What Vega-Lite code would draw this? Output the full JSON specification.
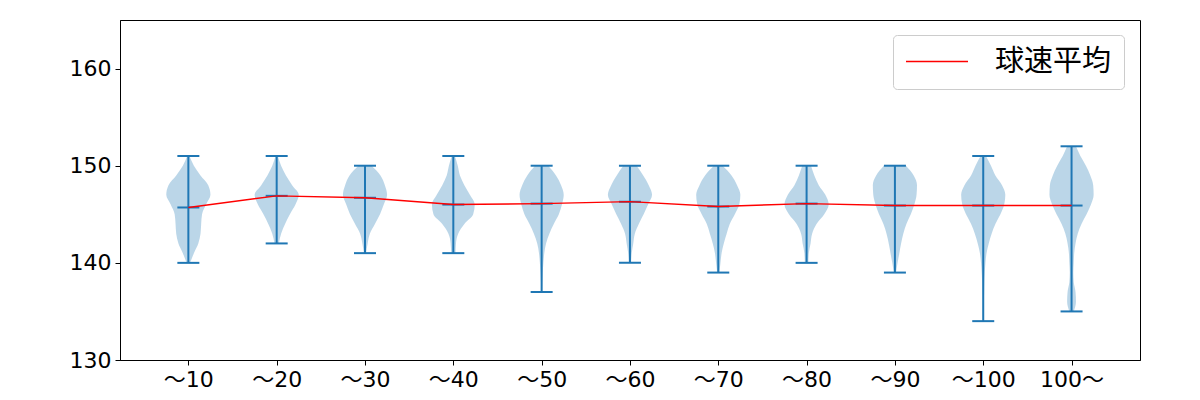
{
  "$schema": "https://vega.github.io/schema/vega-lite/v6.json",
  "width": 1020,
  "height": 340,
  "autosize": {"type": "none"},
  "padding": {"left": 120, "top": 20, "right": 60, "bottom": 40},
  "background": "white",
  "config": {
    "font": "Noto Sans CJK JP",
    "view": {"stroke": "#000000", "strokeWidth": 1},
    "axis": {
      "grid": false,
      "title": null,
      "domainColor": "#000000",
      "domainWidth": 1,
      "tickColor": "#000000",
      "tickWidth": 1,
      "tickSize": 5,
      "labelColor": "#000000",
      "labelFontSize": 22,
      "labelFont": "DejaVu Sans, Noto Sans CJK JP",
      "labelPadding": 4,
      "labelFlush": false,
      "labelOverlap": false
    }
  },
  "datasets": {
    "violin": [
      {"g":1,"v":140,"d":0.08},{"g":1,"v":141,"d":0.25},{"g":1,"v":142,"d":0.45},{"g":1,"v":143,"d":0.55},{"g":1,"v":144,"d":0.58},{"g":1,"v":145,"d":0.62},{"g":1,"v":146,"d":0.8},{"g":1,"v":147,"d":1.0},{"g":1,"v":148,"d":0.9},{"g":1,"v":149,"d":0.55},{"g":1,"v":150,"d":0.25},{"g":1,"v":151,"d":0.05},
      {"g":2,"v":142,"d":0.1},{"g":2,"v":143,"d":0.2},{"g":2,"v":144,"d":0.38},{"g":2,"v":145,"d":0.6},{"g":2,"v":146,"d":0.85},{"g":2,"v":147,"d":1.0},{"g":2,"v":148,"d":0.7},{"g":2,"v":149,"d":0.42},{"g":2,"v":150,"d":0.2},{"g":2,"v":151,"d":0.05},
      {"g":3,"v":141,"d":0.05},{"g":3,"v":142,"d":0.12},{"g":3,"v":143,"d":0.22},{"g":3,"v":144,"d":0.45},{"g":3,"v":145,"d":0.68},{"g":3,"v":146,"d":0.85},{"g":3,"v":147,"d":1.0},{"g":3,"v":148,"d":0.9},{"g":3,"v":149,"d":0.7},{"g":3,"v":150,"d":0.3},
      {"g":4,"v":141,"d":0.1},{"g":4,"v":142,"d":0.12},{"g":4,"v":143,"d":0.22},{"g":4,"v":144,"d":0.5},{"g":4,"v":145,"d":0.9},{"g":4,"v":146,"d":0.97},{"g":4,"v":147,"d":0.75},{"g":4,"v":148,"d":0.5},{"g":4,"v":149,"d":0.3},{"g":4,"v":150,"d":0.2},{"g":4,"v":151,"d":0.07},
      {"g":5,"v":137,"d":0.02},{"g":5,"v":138,"d":0.03},{"g":5,"v":139,"d":0.05},{"g":5,"v":140,"d":0.08},{"g":5,"v":141,"d":0.12},{"g":5,"v":142,"d":0.2},{"g":5,"v":143,"d":0.35},{"g":5,"v":144,"d":0.55},{"g":5,"v":145,"d":0.78},{"g":5,"v":146,"d":0.92},{"g":5,"v":147,"d":1.0},{"g":5,"v":148,"d":0.88},{"g":5,"v":149,"d":0.65},{"g":5,"v":150,"d":0.3},
      {"g":6,"v":140,"d":0.05},{"g":6,"v":141,"d":0.08},{"g":6,"v":142,"d":0.15},{"g":6,"v":143,"d":0.22},{"g":6,"v":144,"d":0.4},{"g":6,"v":145,"d":0.62},{"g":6,"v":146,"d":0.82},{"g":6,"v":147,"d":1.0},{"g":6,"v":148,"d":0.85},{"g":6,"v":149,"d":0.6},{"g":6,"v":150,"d":0.3},
      {"g":7,"v":139,"d":0.05},{"g":7,"v":140,"d":0.1},{"g":7,"v":141,"d":0.15},{"g":7,"v":142,"d":0.25},{"g":7,"v":143,"d":0.38},{"g":7,"v":144,"d":0.52},{"g":7,"v":145,"d":0.75},{"g":7,"v":146,"d":0.95},{"g":7,"v":147,"d":1.0},{"g":7,"v":148,"d":0.85},{"g":7,"v":149,"d":0.6},{"g":7,"v":150,"d":0.2},
      {"g":8,"v":140,"d":0.08},{"g":8,"v":141,"d":0.1},{"g":8,"v":142,"d":0.18},{"g":8,"v":143,"d":0.25},{"g":8,"v":144,"d":0.45},{"g":8,"v":145,"d":0.8},{"g":8,"v":146,"d":1.0},{"g":8,"v":147,"d":0.85},{"g":8,"v":148,"d":0.55},{"g":8,"v":149,"d":0.35},{"g":8,"v":150,"d":0.2},
      {"g":9,"v":139,"d":0.05},{"g":9,"v":140,"d":0.12},{"g":9,"v":141,"d":0.2},{"g":9,"v":142,"d":0.28},{"g":9,"v":143,"d":0.38},{"g":9,"v":144,"d":0.52},{"g":9,"v":145,"d":0.72},{"g":9,"v":146,"d":0.88},{"g":9,"v":147,"d":0.98},{"g":9,"v":148,"d":1.0},{"g":9,"v":149,"d":0.85},{"g":9,"v":150,"d":0.5},
      {"g":10,"v":134,"d":0.02},{"g":10,"v":135,"d":0.03},{"g":10,"v":136,"d":0.03},{"g":10,"v":137,"d":0.04},{"g":10,"v":138,"d":0.05},{"g":10,"v":139,"d":0.07},{"g":10,"v":140,"d":0.1},{"g":10,"v":141,"d":0.15},{"g":10,"v":142,"d":0.25},{"g":10,"v":143,"d":0.38},{"g":10,"v":144,"d":0.55},{"g":10,"v":145,"d":0.78},{"g":10,"v":146,"d":0.95},{"g":10,"v":147,"d":1.0},{"g":10,"v":148,"d":0.85},{"g":10,"v":149,"d":0.55},{"g":10,"v":150,"d":0.35},{"g":10,"v":151,"d":0.12},
      {"g":11,"v":135,"d":0.1},{"g":11,"v":136,"d":0.2},{"g":11,"v":137,"d":0.18},{"g":11,"v":138,"d":0.1},{"g":11,"v":139,"d":0.08},{"g":11,"v":140,"d":0.1},{"g":11,"v":141,"d":0.12},{"g":11,"v":142,"d":0.18},{"g":11,"v":143,"d":0.28},{"g":11,"v":144,"d":0.45},{"g":11,"v":145,"d":0.68},{"g":11,"v":146,"d":0.88},{"g":11,"v":147,"d":1.0},{"g":11,"v":148,"d":0.98},{"g":11,"v":149,"d":0.85},{"g":11,"v":150,"d":0.65},{"g":11,"v":151,"d":0.4},{"g":11,"v":152,"d":0.2}
    ],
    "stats": [
      {"g":1,"label":"〜10","min":140,"max":151,"mean":145.7},
      {"g":2,"label":"〜20","min":142,"max":151,"mean":146.9},
      {"g":3,"label":"〜30","min":141,"max":150,"mean":146.7},
      {"g":4,"label":"〜40","min":141,"max":151,"mean":146.0},
      {"g":5,"label":"〜50","min":137,"max":150,"mean":146.1},
      {"g":6,"label":"〜60","min":140,"max":150,"mean":146.3},
      {"g":7,"label":"〜70","min":139,"max":150,"mean":145.8},
      {"g":8,"label":"〜80","min":140,"max":150,"mean":146.1},
      {"g":9,"label":"〜90","min":139,"max":150,"mean":145.9},
      {"g":10,"label":"〜100","min":134,"max":151,"mean":145.9},
      {"g":11,"label":"100〜","min":135,"max":152,"mean":145.9}
    ]
  },
  "layer": [
    {
      "data": {"name": "violin"},
      "transform": [
        {"calculate": "datum.g - 0.25 * datum.d", "as": "lo"},
        {"calculate": "datum.g + 0.25 * datum.d", "as": "hi"}
      ],
      "mark": {"type": "area", "orient": "horizontal", "interpolate": "monotone", "fill": "#1f77b4", "fillOpacity": 0.3, "stroke": null},
      "encoding": {
        "y": {
          "field": "v",
          "type": "quantitative",
          "scale": {"domain": [130, 165], "nice": false, "zero": false},
          "axis": {"values": [130, 140, 150, 160]}
        },
        "x": {
          "field": "lo",
          "type": "quantitative",
          "scale": {"domain": [0.226, 11.775], "nice": false, "zero": false},
          "axis": {
            "values": [1,2,3,4,5,6,7,8,9,10,11],
            "labelExpr": "['〜10','〜20','〜30','〜40','〜50','〜60','〜70','〜80','〜90','〜100','100〜'][datum.value - 1]"
          }
        },
        "x2": {"field": "hi"},
        "detail": {"field": "g", "type": "nominal"}
      }
    },
    {
      "data": {"name": "stats"},
      "mark": {"type": "rule", "color": "#1f77b4", "strokeWidth": 2},
      "encoding": {
        "x": {"field": "g", "type": "quantitative"},
        "y": {"field": "min", "type": "quantitative"},
        "y2": {"field": "max"}
      }
    },
    {
      "data": {"name": "stats"},
      "mark": {"type": "tick", "orient": "horizontal", "size": 22, "thickness": 2, "color": "#1f77b4", "opacity": 1},
      "encoding": {"x": {"field": "g", "type": "quantitative"}, "y": {"field": "min", "type": "quantitative"}}
    },
    {
      "data": {"name": "stats"},
      "mark": {"type": "tick", "orient": "horizontal", "size": 22, "thickness": 2, "color": "#1f77b4", "opacity": 1},
      "encoding": {"x": {"field": "g", "type": "quantitative"}, "y": {"field": "max", "type": "quantitative"}}
    },
    {
      "data": {"name": "stats"},
      "mark": {"type": "tick", "orient": "horizontal", "size": 22, "thickness": 2, "color": "#1f77b4", "opacity": 1},
      "encoding": {"x": {"field": "g", "type": "quantitative"}, "y": {"field": "mean", "type": "quantitative"}}
    },
    {
      "data": {"name": "stats"},
      "mark": {"type": "line", "strokeWidth": 1.4},
      "encoding": {
        "x": {"field": "g", "type": "quantitative"},
        "y": {"field": "mean", "type": "quantitative"},
        "color": {
          "datum": "球速平均",
          "type": "nominal",
          "scale": {"range": ["#ff0000"]},
          "legend": {
            "title": null,
            "orient": "none",
            "legendX": 773,
            "legendY": 15,
            "symbolType": "stroke",
            "symbolSize": 3844,
            "symbolStrokeWidth": 1.4,
            "clipHeight": 29,
            "labelFontSize": 29,
            "labelFont": "Noto Sans CJK JP",
            "labelColor": "#000000",
            "labelOffset": 26,
            "padding": 12,
            "strokeColor": "#cccccc",
            "fillColor": "#ffffff",
            "cornerRadius": 4
          }
        }
      }
    }
  ]
}
